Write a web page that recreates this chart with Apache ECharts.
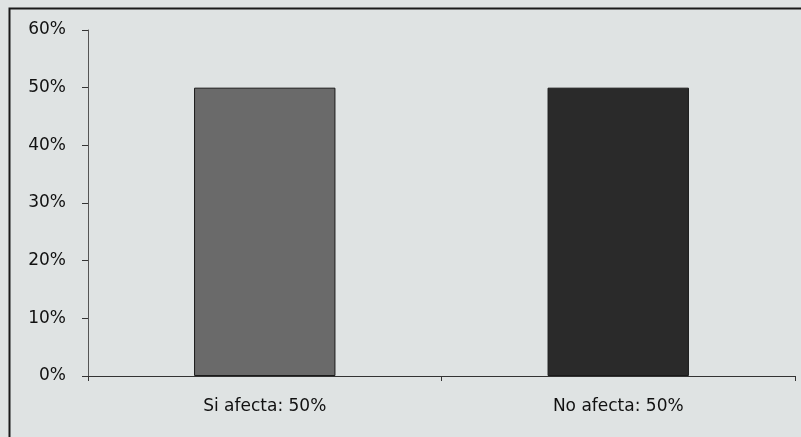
<!DOCTYPE html>
<html><head><meta charset="utf-8">
<script src="https://cdn.jsdelivr.net/npm/echarts@6/dist/echarts.min.js"></script>
<style>html,body{margin:0;padding:0;background:#dfe3e3;}#c{width:801px;height:437px;}</style>
</head><body><div id="c"></div>
<script>
const categories = ['Si afecta: 50%', 'No afecta: 50%'];
const values = [50, 50];
const barColors = ['#6a6a6a', '#2a2a2a'];
const yTicks = [0, 10, 20, 30, 40, 50, 60];

const chart = echarts.init(document.getElementById('c'));
chart.setOption({
  backgroundColor: '#dfe3e3',
  animation: false,
  graphic: [{
    type: 'rect', left: 7, top: 6,
    shape: { width: 820, height: 460 },
    style: { fill: 'none', stroke: '#1a1a1a', lineWidth: 2 }
  }],
  grid: { left: 88, right: 6, top: 30, bottom: 61 },
  xAxis: {
    type: 'category', data: categories,
    axisLine: { lineStyle: { color: '#333', width: 1 } },
    axisTick: { show: true, length: 5, lineStyle: { color: '#333' } },
    axisLabel: { color: '#111', fontSize: 17, fontFamily: 'DejaVu Sans', margin: 22 }
  },
  yAxis: {
    type: 'value', min: yTicks[0], max: yTicks[yTicks.length - 1], interval: 10,
    axisLine: { show: true, lineStyle: { color: '#555', width: 1 } },
    axisTick: { show: true, length: 6, lineStyle: { color: '#333' } },
    splitLine: { show: false },
    axisLabel: { color: '#111', fontSize: 17, fontFamily: 'DejaVu Sans', margin: 22, formatter: v => v + '%' }
  },
  series: [{
    type: 'bar',
    data: values.map((v, i) => ({ value: v, itemStyle: { color: barColors[i] } })),
    barWidth: '40%',
    itemStyle: { borderColor: '#1a1a1a', borderWidth: 1 }
  }]
});
</script></body></html>
